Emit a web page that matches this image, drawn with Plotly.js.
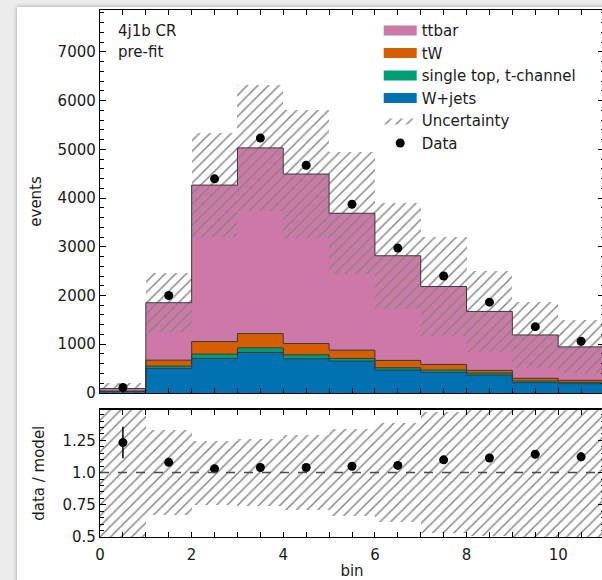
<!DOCTYPE html>
<html><head><meta charset="utf-8">
<script src="https://cdn.plot.ly/plotly-3.0.1.min.js"></script>
<style>
html,body{margin:0;padding:0;width:602px;height:580px;overflow:hidden;background:#ececec;}
#card{position:absolute;left:17px;top:7px;width:640px;height:600px;background:#fff;box-shadow:0 0 4px rgba(0,0,0,0.35);}
#plot{position:absolute;left:0;top:0;width:600px;height:573px;}
</style></head><body><div id="card"><div id="plot"></div></div>
<script>
// ---- data ----
const binEdges   = [0,1,2,3,4,5,6,7,8,9,10,11];
const binCenters = [0.5,1.5,2.5,3.5,4.5,5.5,6.5,7.5,8.5,9.5,10.5];
const wjets   = [25, 504, 708, 830, 700, 653, 469, 422, 367, 211, 190];
const stopT   = [3, 47, 88, 95, 82, 55, 48, 47, 41, 34, 28];
const tW      = [10, 122, 259, 293, 232, 170, 150, 116, 55, 55, 41];
const ttbar   = [52, 1179, 3211, 3812, 3479, 2810, 2149, 1599, 1210, 890, 686];
const uncertainty = [110, 610, 1060, 1300, 1320, 1250, 1090, 1020, 830, 670, 545];
const dataVals = [111, 2000, 4394, 5231, 4673, 3871, 2973, 2401, 1863, 1360, 1061];
const dataErr  = [11, 45, 66, 72, 68, 62, 55, 49, 43, 37, 33];
const xTickVals = [0,2,4,6,8,10];
const ratioTickVals = [0.5,0.75,1.0,1.25];
const ratioTickText = ['0.5','0.75','1.0','1.25'];

const colors = {ttbar:'#cc79a7', tW:'#d55e00', stop:'#009e73', wjets:'#0072b2'};
const edgeCol = '#3a3a3a';
const hatchCol = '#858585';
const FONT = 'DejaVu Sans, sans-serif';

// cumulative stack levels
const lvl1 = wjets.map((v,i)=>v);
const lvl2 = lvl1.map((v,i)=>v+stopT[i]);
const lvl3 = lvl2.map((v,i)=>v+tW[i]);
const total = lvl3.map((v,i)=>v+ttbar[i]);
const stepY = arr => arr.concat([arr[arr.length-1]]);
const hatch = {shape:'/', fillmode:'replace', fgcolor:hatchCol, bgcolor:'rgba(0,0,0,0)', size:7.5, solidity:0.2};

const traces = [];
function stackBar(y, base, color){
  traces.push({type:'bar', x:binCenters, y:y, base:base, width:1, xaxis:'x', yaxis:'y',
    marker:{color:color, line:{width:0}}, showlegend:false, hoverinfo:'skip'});
}
stackBar(wjets, wjets.map(()=>0), colors.wjets);
stackBar(stopT, lvl1, colors.stop);
stackBar(tW, lvl2, colors.tW);
stackBar(ttbar, lvl3, colors.ttbar);
// uncertainty band (main)
traces.push({type:'bar', x:binCenters, y:uncertainty.map(u=>2*u), base:total.map((t,i)=>t-uncertainty[i]),
  width:1, xaxis:'x', yaxis:'y', showlegend:false, hoverinfo:'skip',
  marker:{color:'rgba(0,0,0,0)', line:{width:0}, pattern:hatch}});
// outlines
[lvl1,lvl2,lvl3,total].forEach(l=>{
  traces.push({type:'scatter', mode:'lines', x:binEdges, y:stepY(l), line:{shape:'hv', color:edgeCol, width:1},
    xaxis:'x', yaxis:'y', showlegend:false, hoverinfo:'skip'});
});
// data
traces.push({type:'scatter', mode:'markers', x:binCenters, y:dataVals, xaxis:'x', yaxis:'y',
  marker:{color:'black', size:9}, error_y:{type:'data', array:dataErr, color:'black', thickness:1.5, width:0},
  showlegend:false});
// ratio panel
traces.push({type:'bar', x:binCenters, y:uncertainty.map((u,i)=>2*u/total[i]), base:uncertainty.map((u,i)=>1-u/total[i]),
  width:1, xaxis:'x2', yaxis:'y2', showlegend:false, hoverinfo:'skip',
  marker:{color:'rgba(0,0,0,0)', line:{width:0}, pattern:hatch}});
traces.push({type:'scatter', mode:'markers', x:binCenters, y:dataVals.map((d,i)=>d/total[i]), xaxis:'x2', yaxis:'y2',
  marker:{color:'black', size:9}, error_y:{type:'data', array:dataErr.map((e,i)=>e/total[i]), color:'black', thickness:1.5, width:0},
  showlegend:false});
// legend entries
const legendItems = [['ttbar',colors.ttbar],['tW',colors.tW],['single top, t-channel',colors.stop],['W+jets',colors.wjets]];
legendItems.forEach(([n,c])=>{
  traces.push({type:'scatter', mode:'lines', x:[null], y:[null], name:n, line:{color:c, width:10}, xaxis:'x', yaxis:'y'});
});
traces.push({type:'scatter', mode:'lines', x:[null], y:[null], name:'Uncertainty', fill:'toself', fillcolor:'rgba(0,0,0,0)',
  fillpattern:{shape:'/', fgcolor:hatchCol, bgcolor:'rgba(0,0,0,0)', size:7.5, solidity:0.2}, line:{width:0}, xaxis:'x', yaxis:'y'});
traces.push({type:'scatter', mode:'markers', x:[null], y:[null], name:'Data', marker:{color:'black', size:9}, xaxis:'x', yaxis:'y'});

const axBase = {showline:true, linecolor:'black', linewidth:1.2, mirror:'allticks', ticks:'inside', tickcolor:'black',
  ticklen:6, tickwidth:1, showgrid:false, zeroline:false, tickfont:{family:FONT, size:15, color:'#1a1a1a'}};

const layout = {
  width:600, height:573, margin:{l:83, r:13, t:3, b:43.3},
  paper_bgcolor:'white', plot_bgcolor:'white', barmode:'overlay', bargap:0,
  font:{family:FONT, size:15, color:'#1a1a1a'},
  xaxis: Object.assign({}, axBase, {domain:[0,1], anchor:'y', range:[0,11], showticklabels:false, tickvals:binEdges,
    ticklen:5, minor:{dtick:0.5, tick0:0, ticks:'inside', ticklen:5, tickcolor:'black'}}),
  xaxis2: Object.assign({}, axBase, {domain:[0,1], anchor:'y2', range:[0,11], tickvals:xTickVals, matches:'x',
    ticklen:5, ticklabelstandoff:4, minor:{dtick:0.5, tick0:0, ticks:'inside', ticklen:5, tickcolor:'black'},
    title:{text:'bin', font:{family:FONT, size:15}, standoff:6}}),
  yaxis: Object.assign({}, axBase, {domain:[0.2734,1], anchor:'x', range:[0,7860], dtick:1000, tick0:0,
    minor:{dtick:200, ticks:'inside', ticklen:3.5, tickcolor:'black'},
    title:{text:'events', font:{family:FONT, size:15}, standoff:12}}),
  yaxis2: Object.assign({}, axBase, {domain:[0,0.2419], anchor:'x2', range:[0.5,1.49], tickvals:ratioTickVals, ticktext:ratioTickText,
    minor:{dtick:0.05, tick0:0.5, ticks:'inside', ticklen:3.5, tickcolor:'black'},
    title:{text:'data / model', font:{family:FONT, size:15}, standoff:14}}),
  shapes:[{type:'line', xref:'x2 domain', yref:'y2', x0:0, x1:1, y0:1, y1:1, line:{color:'#4a4a4a', width:1.5, dash:'dash'}}],
  annotations:[
    {xref:'x domain', yref:'y domain', x:0.032, y:0.946, xanchor:'left', yanchor:'middle', showarrow:false, text:'4j1b CR', font:{family:FONT, size:15, color:'#1a1a1a'}},
    {xref:'x domain', yref:'y domain', x:0.032, y:0.891, xanchor:'left', yanchor:'middle', showarrow:false, text:'pre-fit', font:{family:FONT, size:15, color:'#1a1a1a'}}
  ],
  legend:{x:0.553, y:0.992, xanchor:'left', yanchor:'top', itemwidth:33, bgcolor:'rgba(0,0,0,0)', font:{family:FONT, size:15, color:'#1a1a1a'}, tracegroupgap:0}
};
Plotly.newPlot('plot', traces, layout, {displayModeBar:false, staticPlot:true});
</script></body></html>
